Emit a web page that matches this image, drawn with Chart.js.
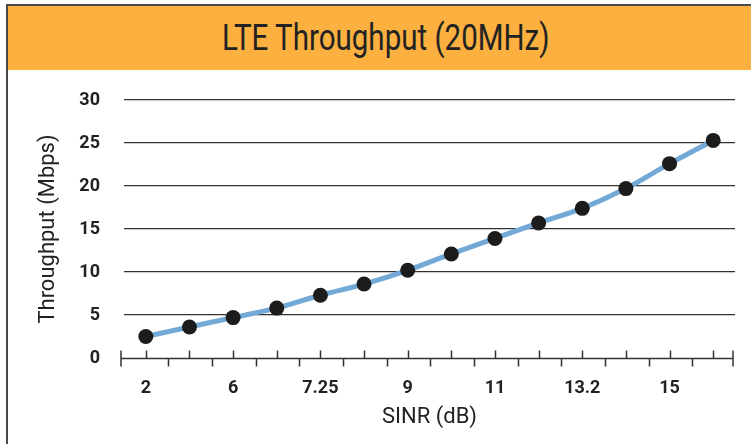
<!DOCTYPE html>
<html>
<head>
<meta charset="utf-8">
<script src="https://cdn.jsdelivr.net/npm/chart.js@4.4.1/dist/chart.umd.min.js"></script>
<style>
  html, body { margin: 0; padding: 0; background: #fff; }
  body { width: 751px; height: 444px; position: relative; overflow: hidden; }
  #frame {
    position: absolute; left: 6px; top: 4px; width: 800px; height: 500px;
    border: 2px solid #4a4a4a; box-sizing: border-box;
  }
  #band {
    position: absolute; left: 8px; top: 6px; width: 760px; height: 64px;
    background: #fbb040;
  }
  #title {
    position: absolute; left: 0; top: 6px; width: 771px; height: 64px;
    line-height: 64px; text-align: center;
    font-family: Roboto, sans-serif; font-size: 36px; color: #222;
    transform: scaleX(0.82); transform-origin: 387px 0;
  }
  #wrap { position: absolute; left: 0; top: 0; width: 751px; height: 444px; }
</style>
</head>
<body>
<div id="frame"></div>
<div id="band"></div>
<div id="title">LTE Throughput (20MHz)</div>
<div id="wrap"><canvas id="lteChart"></canvas></div>
<script>
// SINR categories (only every other one is labelled in the source)
const sinrLabels = ["2", "", "6", "", "7.25", "", "9", "", "11", "", "13.2", "", "15", ""];
// Throughput in Mbps
const throughput = [2.5, 3.6, 4.7, 5.8, 7.3, 8.6, 10.2, 12.1, 13.9, 15.7, 17.4, 19.7, 22.6, 25.3];
const yTicks = [0, 5, 10, 15, 20, 25, 30];

// x axis line with ticks above (at points) and below (between points)
const xAxisTicks = {
  id: "xAxisTicks",
  beforeDatasetsDraw(chart) {
    const { ctx, scales: { x }, chartArea } = chart;
    const y0 = Math.round(chartArea.bottom) + 0.5;
    const left = chartArea.left - 3;
    const right = chartArea.right - 2;
    const centers = sinrLabels.map((_, i) => Math.round(x.getPixelForValue(i)) + 0.5);
    ctx.save();
    ctx.strokeStyle = "#333";
    ctx.lineWidth = 1.5;
    ctx.beginPath();
    ctx.moveTo(left, y0);
    ctx.lineTo(right, y0);
    centers.forEach((px, i) => {
      ctx.moveTo(px, y0);
      ctx.lineTo(px, y0 - 8);
      if (i > 0) {
        const mid = Math.round((centers[i - 1] + px) / 2) + 0.5;
        ctx.moveTo(mid, y0);
        ctx.lineTo(mid, y0 + 8);
      }
    });
    [left, right].forEach((px) => {
      ctx.moveTo(px, y0 - 8);
      ctx.lineTo(px, y0 + 8);
    });
    ctx.stroke();
    ctx.restore();
  },
};

new Chart(document.getElementById("lteChart"), {
  type: "line",
  data: {
    labels: sinrLabels,
    datasets: [
      {
        label: "Throughput",
        data: throughput,
        borderColor: "#72a9d7",
        borderWidth: 5,
        tension: 0.3,
        pointRadius: 7.5,
        pointBackgroundColor: "#1c1c1c",
        pointBorderWidth: 0,
        fill: false,
      },
    ],
  },
  options: {
    responsive: true,
    maintainAspectRatio: false,
    animation: false,
    layout: { padding: { left: 23, top: 100, right: 16, bottom: 0 } },
    plugins: {
      legend: { display: false },
      tooltip: { enabled: false },
    },
    scales: {
      x: {
        offset: true,
        afterFit: (scale) => { scale.height = 86; },
        border: { display: false },
        grid: { display: false, drawTicks: false },
        ticks: {
          autoSkip: false,
          maxRotation: 0,
          padding: 20,
          color: "#222",
          font: { family: "Roboto", weight: "bold", size: 18 },
        },
        title: {
          display: true,
          text: "SINR (dB)",
          color: "#222",
          font: { family: "Roboto", size: 22 },
          padding: { top: 0, bottom: 13 },
        },
      },
      y: {
        min: 0,
        max: 30,
        afterFit: (scale) => { scale.width = 101; },
        afterBuildTicks: (scale) => {
          scale.ticks = yTicks.map((v) => ({ value: v }));
        },
        border: { display: false },
        grid: {
          drawTicks: false,
          color: (c) => (c.tick.value === 0 ? "rgba(0,0,0,0)" : "#333"),
          lineWidth: 1.2,
        },
        ticks: {
          padding: 24,
          color: "#222",
          font: { family: "Roboto", weight: "bold", size: 18 },
        },
        title: {
          display: true,
          text: "Throughput (Mbps)",
          color: "#222",
          font: { family: "Roboto", size: 22 },
          padding: { top: 12, bottom: 0 },
        },
      },
    },
  },
  plugins: [xAxisTicks],
});
</script>
</body>
</html>
